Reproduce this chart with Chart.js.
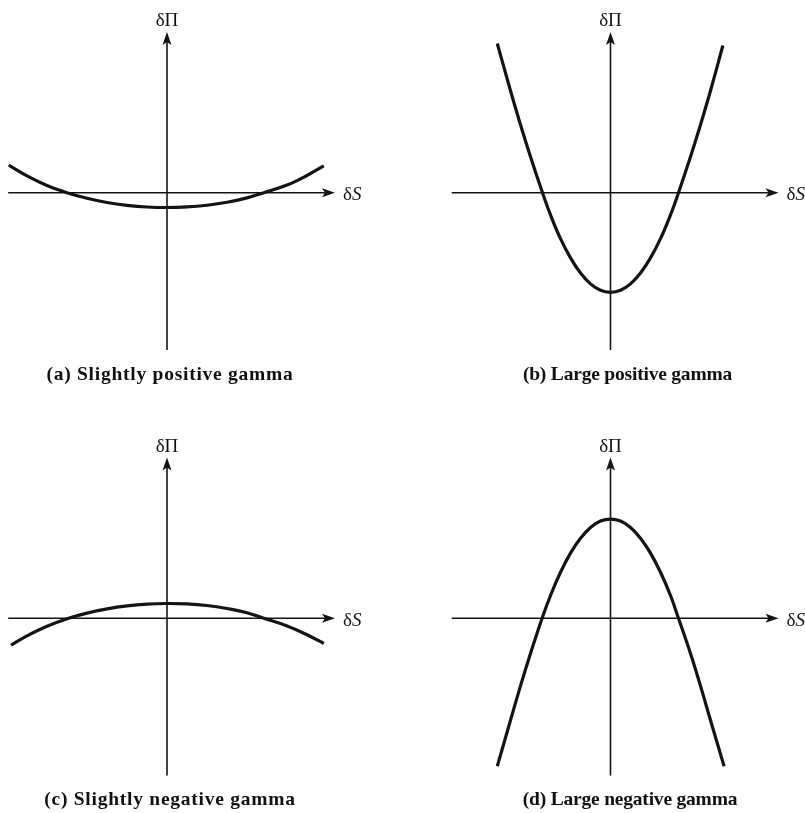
<!DOCTYPE html>
<html><head><meta charset="utf-8">
<script src="https://cdn.jsdelivr.net/npm/chart.js@4.4.1/dist/chart.umd.min.js"></script>
<style>
html,body{margin:0;padding:0;background:#fff;}
#wrap{position:relative;width:805px;height:813px;overflow:hidden;background:#fff;}
.pane{position:absolute;}
canvas{display:block;}
.lab{position:absolute;font-family:"Liberation Serif","Times New Roman",serif;color:#111;white-space:nowrap;line-height:1;}
.cap{font-weight:bold;transform:translateX(-50%);}
.ax{font-size:19px;}
.axy{transform:translateX(-50%);}
</style></head><body>
<div id="wrap"></div>
<script>
// ---- data ----
const panelTitles = ["(a) Slightly positive gamma", "(b) Large positive gamma",
                     "(c) Slightly negative gamma", "(d) Large negative gamma"];
const labelPi = "δΠ";
const labelS = "δ";
const labelSItalic = "S";

const dS_a  = [-3.96, -3.5, -3, -2.5, -2, -1.5, -1, -0.5, 0, 0.5, 1, 1.5, 2, 2.42, 3, 3.5, 3.92];
const dPi_a = [0.69, 0.42, 0.18, 0, -0.14, -0.245, -0.315, -0.357, -0.37, -0.356, -0.313, -0.24, -0.13, 0, 0.19, 0.43, 0.67];

const dS_b  = [-2.83, -2.5, -2.25, -2, -1.7, -1.5, -1.25, -1, -0.75, -0.5, -0.25, 0,
               0.25, 0.5, 0.75, 1, 1.25, 1.5, 1.7, 2, 2.25, 2.5, 2.81];
const dPi_b = [3.73, 2.55, 1.7, 0.9, 0, -0.555, -1.15, -1.63, -2.01, -2.28, -2.44, -2.49,
               -2.44, -2.28, -2.01, -1.63, -1.15, -0.555, 0, 0.9, 1.7, 2.55, 3.68];

const dS_c  = [-3.9, -3.5, -3, -2.46, -2, -1.5, -1, -0.5, 0, 0.5, 1, 1.5, 2, 2.42, 3, 3.5, 3.92];
const dPi_c = [-0.67, -0.44, -0.2, 0, 0.13, 0.235, 0.31, 0.355, 0.37, 0.36, 0.32, 0.245, 0.14, 0, -0.19, -0.41, -0.63];

const dS_d  = [-2.83, -2.5, -2.25, -2, -1.71, -1.5, -1.25, -1, -0.75, -0.5, -0.25, 0,
               0.25, 0.5, 0.75, 1, 1.25, 1.5, 1.7, 2, 2.25, 2.5, 2.84];
const dPi_d = [-3.7, -2.55, -1.69, -0.88, 0, 0.57, 1.15, 1.63, 2.0, 2.27, 2.43, 2.48,
               2.43, 2.27, 2.0, 1.63, 1.15, 0.57, 0, -0.88, -1.69, -2.55, -3.7];

const axisRangeS  = [-3.97, 4.2];
const axisRangePi = [-3.93, 4.02];

// ---- layout ----
const panes = [
  {xs: dS_a, ys: dPi_a, left: 0,   top: 0,   w: 400, h: 400, pad: {left: 8.2,  right: 65,   top: 31.9, bottom: 50.1}, capX: 170,   capBase: 380, capSize: 19.5, capSp: 0.75},
  {xs: dS_b, ys: dPi_b, left: 400, top: 0,   w: 405, h: 400, pad: {left: 51.7, right: 26.5, top: 31.9, bottom: 50.1}, capX: 627.5, capBase: 380, capSize: 19.5, capSp: -0.2},
  {xs: dS_c, ys: dPi_c, left: 0,   top: 410, w: 400, h: 403, pad: {left: 8.2,  right: 65,   top: 47.5, bottom: 37.5}, capX: 170,   capBase: 805, capSize: 19.5, capSp: 0.75},
  {xs: dS_d, ys: dPi_d, left: 400, top: 410, w: 405, h: 403, pad: {left: 51.7, right: 26.5, top: 47.5, bottom: 37.5}, capX: 630,   capBase: 805, capSize: 19.5, capSp: -0.2}
];

const INK = '#141414';

const crossAxes = {
  id: 'crossAxes',
  beforeDatasetsDraw(chart) {
    const {ctx, scales: {x, y}} = chart;
    const x0 = x.getPixelForValue(0), y0 = y.getPixelForValue(0);
    const xl = x.getPixelForValue(axisRangeS[0]), xr = x.getPixelForValue(axisRangeS[1]);
    const yb = y.getPixelForValue(axisRangePi[0]), yt = y.getPixelForValue(axisRangePi[1]);
    ctx.save();
    ctx.strokeStyle = INK; ctx.fillStyle = INK; ctx.lineWidth = 1.6;
    ctx.beginPath(); ctx.moveTo(xl, y0); ctx.lineTo(xr - 8, y0); ctx.stroke();
    ctx.beginPath(); ctx.moveTo(x0, yb); ctx.lineTo(x0, yt + 8); ctx.stroke();
    // right arrow head
    ctx.beginPath();
    ctx.moveTo(xr, y0); ctx.lineTo(xr - 13, y0 - 4.5); ctx.lineTo(xr - 10, y0); ctx.lineTo(xr - 13, y0 + 4.5);
    ctx.closePath(); ctx.fill();
    // up arrow head
    ctx.beginPath();
    ctx.moveTo(x0, yt); ctx.lineTo(x0 - 4.5, yt + 13); ctx.lineTo(x0, yt + 10); ctx.lineTo(x0 + 4.5, yt + 13);
    ctx.closePath(); ctx.fill();
    ctx.restore();
  }
};

const wrap = document.getElementById('wrap');
const FS = 19, BASE = 0.8375; // baseline offset factor for line-height:1

panes.forEach((p, i) => {
  const div = document.createElement('div');
  div.className = 'pane';
  div.style.left = p.left + 'px'; div.style.top = p.top + 'px';
  div.style.width = p.w + 'px'; div.style.height = p.h + 'px';
  const cv = document.createElement('canvas');
  cv.width = p.w; cv.height = p.h;
  cv.style.width = p.w + 'px'; cv.style.height = p.h + 'px';
  div.appendChild(cv);
  wrap.appendChild(div);

  const chart = new Chart(cv, {
    type: 'scatter',
    data: {
      datasets: [{
        data: p.xs.map((v, k) => ({x: v, y: p.ys[k]})),
        showLine: true,
        borderColor: INK,
        borderWidth: 3.2,
        pointRadius: 0,
        tension: 0.4,
        borderCapStyle: 'butt',
        fill: false
      }]
    },
    options: {
      responsive: false,
      animation: false,
      events: [],
      layout: {padding: p.pad},
      plugins: {legend: {display: false}, tooltip: {enabled: false}, title: {display: false}},
      scales: {
        x: {type: 'linear', display: false, min: axisRangeS[0], max: axisRangeS[1]},
        y: {type: 'linear', display: false, min: axisRangePi[0], max: axisRangePi[1]}
      }
    },
    plugins: [crossAxes]
  });

  const sx = chart.scales.x, sy = chart.scales.y;
  const x0 = p.left + sx.getPixelForValue(0);
  const y0 = p.top + sy.getPixelForValue(0);
  const yt = p.top + sy.getPixelForValue(axisRangePi[1]);
  const xr = p.left + sx.getPixelForValue(axisRangeS[1]);

  const lp = document.createElement('div');
  lp.className = 'lab ax axy';
  lp.textContent = labelPi;
  lp.style.left = x0 + 'px';
  lp.style.top = (yt - 6 - FS * BASE) + 'px';
  wrap.appendChild(lp);

  const ls = document.createElement('div');
  ls.className = 'lab ax';
  ls.innerHTML = labelS + '<i>' + labelSItalic + '</i>';
  ls.style.left = (xr + 8) + 'px';
  ls.style.top = (y0 + 7.5 - FS * BASE) + 'px';
  wrap.appendChild(ls);

  const cap = document.createElement('div');
  cap.className = 'lab cap';
  cap.textContent = panelTitles[i];
  cap.style.fontSize = p.capSize + 'px';
  cap.style.letterSpacing = p.capSp + 'px';
  cap.style.left = p.capX + 'px';
  cap.style.top = (p.capBase - p.capSize * BASE) + 'px';
  wrap.appendChild(cap);
});
</script>
</body></html>
